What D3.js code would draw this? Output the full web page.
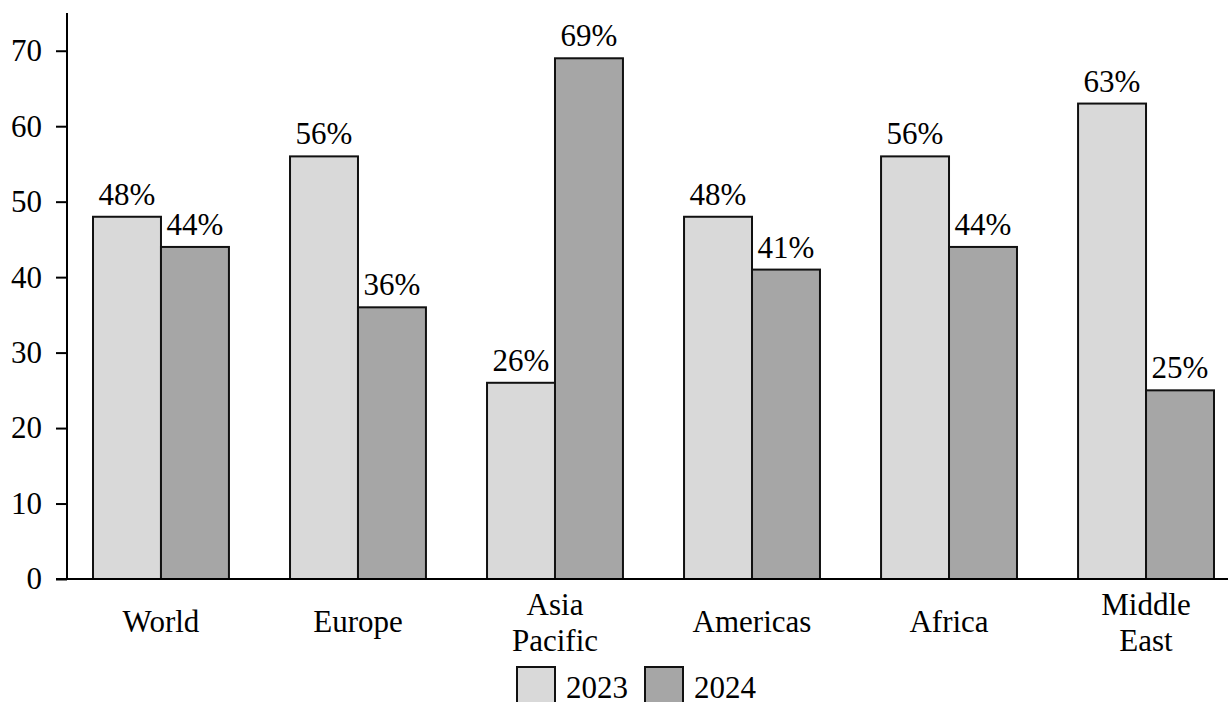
<!DOCTYPE html>
<html>
<head>
<meta charset="utf-8">
<script src="https://cdn.jsdelivr.net/npm/d3@7"></script>
<style>
  html, body { margin: 0; padding: 0; background: #fff; overflow: hidden; }
  svg { display: block; }
  svg text { font-family: "Liberation Serif", "DejaVu Serif", serif !important; fill: #000; }
</style>
</head>
<body>
<svg id="chart" width="1228" height="702"></svg>
<script>
// Regions (two-line labels split on "\n")
const categories = ["World", "Europe", "Asia\nPacific", "Americas", "Africa", "Middle\nEast"];
const seriesNames = ["2023", "2024"];
const values2023 = [48, 56, 26, 48, 56, 63];
const values2024 = [44, 36, 69, 41, 44, 25];
const yTicks = [0, 10, 20, 30, 40, 50, 60, 70];

const colors = { "2023": "#d9d9d9", "2024": "#a6a6a6" };
const FS = 31;

const svg = d3.select("#chart");
const W = 1228;
const x0 = 67, yBase = 579, yTop = 13;

const y = d3.scaleLinear().domain([0, 75]).range([yBase, yTop]);

const x = d3.scaleBand()
  .domain(categories)
  .range([x0, 1240])
  .paddingInner(0.31)
  .paddingOuter(0.132);

const xs = d3.scaleBand().domain(seriesNames).range([0, x.bandwidth()]);

const rows = categories.map((c, i) => ({ cat: c, vals: [values2023[i], values2024[i]] }));

// Bars
const groups = svg.append("g").selectAll("g")
  .data(rows).join("g")
  .attr("transform", d => `translate(${x(d.cat)},0)`);

groups.selectAll("rect")
  .data(d => d.vals.map((v, k) => ({ key: seriesNames[k], v })))
  .join("rect")
  .attr("x", d => xs(d.key))
  .attr("y", d => y(d.v))
  .attr("width", xs.bandwidth())
  .attr("height", d => y(0) - y(d.v))
  .attr("fill", d => colors[d.key])
  .attr("stroke", "#111")
  .attr("stroke-width", 2);

// Value labels above bars
groups.selectAll("text.val")
  .data(d => d.vals.map((v, k) => ({ key: seriesNames[k], v })))
  .join("text")
  .attr("class", "val")
  .attr("x", d => xs(d.key) + xs.bandwidth() / 2)
  .attr("y", d => y(d.v) - 12)
  .attr("text-anchor", "middle")
  .style("font-size", FS + "px")
  .text(d => d.v + "%");

// Y axis
const yAxis = svg.append("g")
  .attr("transform", `translate(${x0},0)`)
  .call(d3.axisLeft(y).tickValues(yTicks).tickSize(11).tickPadding(14).tickSizeOuter(0));
yAxis.select(".domain").attr("d", `M0,${yTop}V${yBase}`).attr("stroke", "#000").attr("stroke-width", 2);
yAxis.selectAll(".tick line").attr("stroke", "#000").attr("stroke-width", 2);
yAxis.selectAll(".tick text").style("font-size", FS + "px").attr("fill", "#000");

// X axis baseline
svg.append("line")
  .attr("x1", x0 - 11).attr("x2", W)
  .attr("y1", yBase).attr("y2", yBase)
  .attr("stroke", "#000").attr("stroke-width", 2);

// Category labels
svg.append("g").selectAll("text")
  .data(categories).join("text")
  .attr("text-anchor", "middle")
  .style("font-size", FS + "px")
  .attr("x", d => x(d) + x.bandwidth() / 2)
  .each(function (d) {
    const lines = d.split("\n");
    const t = d3.select(this);
    if (lines.length === 1) {
      t.attr("y", 632).text(lines[0]);
    } else {
      lines.forEach((ln, i) => {
        t.append("tspan").attr("x", x(d) + x.bandwidth() / 2).attr("y", 615 + i * 36).text(ln);
      });
    }
  });

// Legend
const legend = svg.append("g");
const legX = [517, 645];
seriesNames.forEach((s, i) => {
  legend.append("rect")
    .attr("x", legX[i]).attr("y", 667)
    .attr("width", 38).attr("height", 38)
    .attr("fill", colors[s]).attr("stroke", "#111").attr("stroke-width", 2);
  legend.append("text")
    .attr("x", legX[i] + 49).attr("y", 698)
    .style("font-size", FS + "px")
    .text(s);
});
</script>
</body>
</html>
